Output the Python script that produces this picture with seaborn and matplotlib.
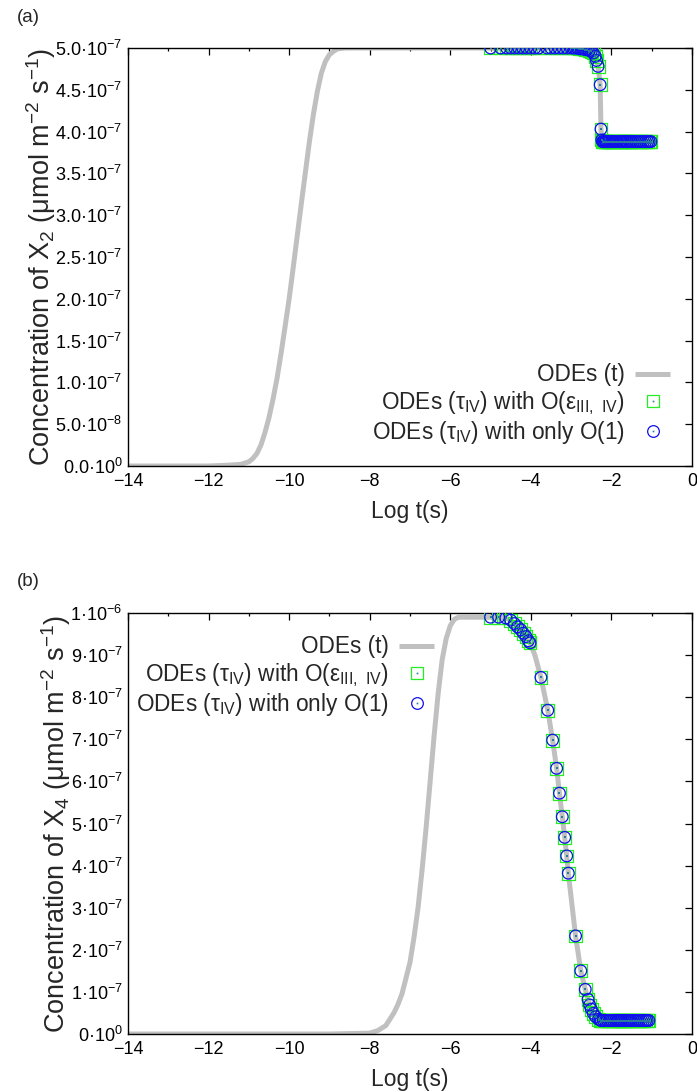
import numpy as np
import pandas as pd
import matplotlib
matplotlib.use("Agg")
import matplotlib.pyplot as plt
from matplotlib.lines import Line2D
from matplotlib.legend_handler import HandlerTuple
import seaborn as sns

# ---------------- data ----------------
# Panel (a): X2, values in units of 1e-7
ode_a_t = [-14, -12, -11.5, -11.2, -11.0, -10.9, -10.8, -10.7, -10.6, -10.5, -10.4, -10.3,
           -10.2, -10.1, -10.0, -9.9, -9.8, -9.7, -9.6, -9.5, -9.4, -9.3, -9.2, -9.1,
           -9.0, -8.9, -8.8, -8.6, -8.0, -4.0, -2.6, -2.5, -2.45, -2.4, -2.37, -2.33,
           -2.3, -2.28, -2.26, -2.24, -2.22, -2.0, -1.0]
ode_a_v = [0, 0, 0.01, 0.02, 0.05, 0.09, 0.15, 0.25, 0.4, 0.58, 0.8, 1.05,
           1.35, 1.67, 2.0, 2.37, 2.75, 3.13, 3.5, 3.87, 4.2, 4.48, 4.7, 4.84,
           4.92, 4.96, 4.99, 5.0, 5.0, 5.0, 4.99, 4.97, 4.95, 4.9, 4.85, 4.78,
           4.65, 4.56, 4.03, 3.9, 3.88, 3.88, 3.88]

pts_a_t = [-5.0, -4.75, -4.6, -4.5, -4.4, -4.3, -4.2, -4.1, -4.0, -3.9, -3.8,
           -3.6, -3.5, -3.4, -3.3, -3.2, -3.1, -3.0, -2.95, -2.9, -2.85, -2.8,
           -2.75, -2.7, -2.65, -2.6, -2.55, -2.5, -2.45, -2.4, -2.37, -2.33, -2.28,
           -2.26, -2.24, -2.22, -2.2, -2.18, -2.15, -2.13, -2.1, -2.07, -2.04, -2.0,
           -1.97, -1.94, -1.9, -1.86, -1.8, -1.77, -1.75, -1.72, -1.7, -1.66, -1.62,
           -1.6, -1.56, -1.52, -1.5, -1.45, -1.4, -1.35, -1.3, -1.25, -1.2, -1.15,
           -1.1, -1.06, -1.02]
pts_a_v = [5.0, 5.0, 5.0, 5.0, 5.0, 5.0, 5.0, 5.0, 5.0, 5.0, 5.0,
           5.0, 5.0, 5.0, 5.0, 5.0, 5.0, 5.0, 5.0, 5.0, 5.0, 4.99,
           4.99, 4.99, 4.98, 4.98, 4.97, 4.96, 4.94, 4.9, 4.85, 4.78, 4.56,
           4.03, 3.9, 3.88, 3.88, 3.88, 3.88, 3.88, 3.88, 3.88, 3.88, 3.88,
           3.88, 3.88, 3.88, 3.88, 3.88, 3.88, 3.88, 3.88, 3.88, 3.88, 3.88,
           3.88, 3.88, 3.88, 3.88, 3.88, 3.88, 3.88, 3.88, 3.88, 3.88, 3.88,
           3.88, 3.88, 3.88]

# Panel (b): X4, values in units of 1e-6
ode_b_t = [-14, -9.0, -8.0, -7.8, -7.6, -7.4, -7.3, -7.2, -7.0, -6.9, -6.8, -6.7, -6.6,
           -6.5, -6.4, -6.3, -6.2, -6.1, -6.0, -5.9, -5.8, -5.0, -4.8, -4.62, -4.5,
           -4.41, -4.33, -4.25, -4.19, -4.12, -4.06, -4.02, -3.9, -3.75, -3.58, -3.46,
           -3.36, -3.29, -3.22, -3.16, -3.11, -3.07, -2.89, -2.76, -2.65, -2.58, -2.54,
           -2.50, -2.45, -2.39, -2.32, -2.2, -1.0]
ode_b_v = [0, 0, 0.002, 0.008, 0.02, 0.05, 0.07, 0.095, 0.17, 0.23, 0.3, 0.39, 0.49,
           0.6, 0.71, 0.81, 0.89, 0.94, 0.97, 0.985, 0.99, 0.99, 0.99, 0.988, 0.983,
           0.975, 0.967, 0.96, 0.952, 0.944, 0.934, 0.929, 0.9, 0.847, 0.769, 0.698,
           0.631, 0.572, 0.516, 0.467, 0.423, 0.382, 0.233, 0.15, 0.106, 0.082, 0.069,
           0.059, 0.049, 0.041, 0.035, 0.032, 0.032]

pts_b_t = [-5.0, -4.8, -4.62, -4.5, -4.41, -4.33, -4.25, -4.19, -4.12, -4.06, -4.02,
           -3.75, -3.58, -3.46, -3.36, -3.29, -3.22, -3.16, -3.11, -3.07, -2.89,
           -2.76, -2.65, -2.58, -2.54, -2.50, -2.45, -2.39, -2.32, -2.28, -2.25, -2.2,
           -2.15, -2.1, -2.05, -2.0, -1.95, -1.9, -1.86, -1.83, -1.8, -1.77, -1.74,
           -1.7, -1.66, -1.62, -1.58, -1.54, -1.5, -1.45, -1.4, -1.35, -1.3, -1.25,
           -1.2, -1.15, -1.11, -1.07]
pts_b_v = [0.99, 0.99, 0.988, 0.983, 0.975, 0.967, 0.96, 0.952, 0.944, 0.934, 0.929,
           0.847, 0.769, 0.698, 0.631, 0.572, 0.516, 0.467, 0.423, 0.382, 0.233,
           0.15, 0.106, 0.082, 0.069, 0.059, 0.049, 0.041, 0.035, 0.033, 0.032, 0.032,
           0.032, 0.032, 0.032, 0.032, 0.032, 0.032, 0.032, 0.032, 0.032, 0.032, 0.032,
           0.032, 0.032, 0.032, 0.032, 0.032, 0.032, 0.032, 0.032, 0.032, 0.032, 0.032,
           0.032, 0.032, 0.032, 0.032]

xticks = [-14, -12, -10, -8, -6, -4, -2, 0]
xticklabels = ["−14", "−12", "−10", "−8", "−6", "−4", "−2", "0"]
yticks_a = [0, 0.5, 1.0, 1.5, 2.0, 2.5, 3.0, 3.5, 4.0, 4.5, 5.0]
yticklabels_a = ["0.0·10^{0}", "5.0·10^{-8}", "1.0·10^{-7}", "1.5·10^{-7}", "2.0·10^{-7}",
                 "2.5·10^{-7}", "3.0·10^{-7}", "3.5·10^{-7}", "4.0·10^{-7}", "4.5·10^{-7}",
                 "5.0·10^{-7}"]
yticks_b = [0, 0.1, 0.2, 0.3, 0.4, 0.5, 0.6, 0.7, 0.8, 0.9, 1.0]
yticklabels_b = ["0·10^{0}", "1·10^{-7}", "2·10^{-7}", "3·10^{-7}", "4·10^{-7}", "5·10^{-7}",
                 "6·10^{-7}", "7·10^{-7}", "8·10^{-7}", "9·10^{-7}", "1·10^{-6}"]

legend_labels = ["ODEs (t)",
                 r"ODEs (τ$_\mathregular{IV}$) with O(ε$_\mathregular{III,\ IV}$)",
                 "ODEs (τ$_\mathregular{IV}$) with only O(1)"]

# ---------------- style ----------------
sns.set_theme(style="white")
plt.rcParams["font.family"] = ["Liberation Sans", "DejaVu Sans"]
plt.rcParams["mathtext.default"] = "regular"
plt.rcParams["axes.linewidth"] = 1.0

GRAY = "#c0c0c0"
GREEN = "#22ee22"
BLUE = "#1010ee"
DOT = "#2a7aa0"

fig = plt.figure(figsize=(6.97, 10.92), dpi=100)
ax_a = fig.add_axes([128 / 697, 1 - 466 / 1092, (692 - 128) / 697, (466 - 48) / 1092])
ax_b = fig.add_axes([128 / 697, 1 - 1034 / 1092, (692 - 128) / 697, (1034 - 613) / 1092])


def draw(ax, ot, ov, pt, pv):
    sns.lineplot(x=ot, y=ov, ax=ax, color=GRAY, linewidth=3.6, sort=False,
                 estimator=None, legend=False, solid_capstyle="butt")
    sns.scatterplot(x=pt, y=pv, ax=ax, marker="s", s=85, facecolors="none",
                    edgecolors=GREEN, linewidths=0.9, legend=False, zorder=3)
    sns.scatterplot(x=pt, y=pv, ax=ax, marker="o", s=70, facecolors="none",
                    edgecolors=BLUE, linewidths=0.9, legend=False, zorder=4)
    sns.scatterplot(x=pt, y=pv, ax=ax, marker="s", s=1.5, color=DOT,
                    linewidth=0, legend=False, zorder=5)


draw(ax_a, ode_a_t, ode_a_v, pts_a_t, pts_a_v)
draw(ax_b, ode_b_t, ode_b_v, pts_b_t, pts_b_v)


def fmt(ax, yt, ytl, ylim, ylabel):
    ax.set_xlim(-14, 0)
    ax.set_ylim(*ylim)
    ax.set_xticks(xticks)
    ax.set_xticklabels(xticklabels, fontsize=13)
    ax.set_xticks(np.arange(-13, 0, 2), minor=True)
    ax.set_yticks(yt)
    ax.set_yticklabels(["$" + s + "$" for s in ytl], fontsize=13)
    ax.tick_params(which="both", direction="in", top=True, right=True,
                   colors="black", width=0.9)
    ax.tick_params(which="major", length=5)
    ax.tick_params(which="minor", length=2.5)
    ax.tick_params(axis="y", pad=4)
    ax.tick_params(axis="x", pad=5)
    for sp in ax.spines.values():
        sp.set_color("black")
    ax.set_xlabel("Log t(s)", fontsize=16.5, labelpad=7)
    ax.set_ylabel(ylabel, fontsize=19.5, labelpad=-2)


fmt(ax_a, yticks_a, yticklabels_a, (0, 5.0),
    "Concentration of X$_\\mathregular{2}$ (μmol m$^\\mathregular{-2}$ s$^\\mathregular{-1}$)")
fmt(ax_b, yticks_b, yticklabels_b, (0, 1.0),
    "Concentration of X$_\\mathregular{4}$ (μmol m$^\\mathregular{-2}$ s$^\\mathregular{-1}$)")


def handles():
    h1 = Line2D([], [], color=GRAY, linewidth=3.6, solid_capstyle="butt")
    sq = Line2D([], [], linestyle="none", marker="s", markersize=9.2,
                markerfacecolor="none", markeredgecolor=GREEN, markeredgewidth=0.9)
    ci = Line2D([], [], linestyle="none", marker="o", markersize=8.4,
                markerfacecolor="none", markeredgecolor=BLUE, markeredgewidth=0.9)
    dot = Line2D([], [], linestyle="none", marker="s", markersize=1.2,
                 markerfacecolor=DOT, markeredgewidth=0)
    return [h1, (sq, dot), (ci, dot)]


leg_kw = dict(markerfirst=False, frameon=False, fontsize=16.3, handlelength=1.57,
              handletextpad=0.44, labelspacing=0.1, borderpad=0.4,
              handler_map={tuple: HandlerTuple(ndivide=1, pad=0)})
ax_a.legend(handles(), legend_labels, loc="upper right",
            bbox_to_anchor=(0.998, 0.294), **leg_kw)
ax_b.legend(handles(), legend_labels, loc="upper right",
            bbox_to_anchor=(0.5795, 0.995), **leg_kw)

fig.text(17 / 697, 1 - 18 / 1092, "(a)", fontsize=13.5, va="center", ha="left")
fig.text(17 / 697, 1 - 582 / 1092, "(b)", fontsize=13.5, va="center", ha="left")

fig.savefig("out.png", dpi=100)
